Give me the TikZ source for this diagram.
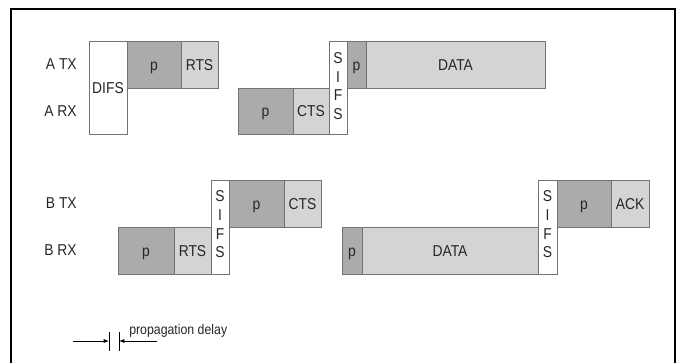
\documentclass[tikz,border=0pt]{standalone}
\usepackage{fontspec}
\setmainfont{Liberation Sans}[FakeStretch=0.88]
\usetikzlibrary{arrows.meta}

\tikzset{
  slot/.style={draw=black!55, line width=0.6pt},
  dark/.style={slot, fill=black!33},
  light/.style={slot, fill=black!17},
  gap/.style={slot, fill=white},
  lbl/.style={text=black!85, font=\fontsize{11.8}{14}\selectfont, inner sep=0pt, align=center},
  word/.style={lbl, text height=8.4pt, text depth=0pt},
}

\begin{document}
\begin{tikzpicture}[x=0.75pt, y=-0.75pt]
\useasboundingbox (0,0) rectangle (680,362);
\draw[line width=1.5pt] (11,363) -- (11,9) -- (675,9) -- (675,363);
% station A
\node[word, anchor=east] (atx) at (77,64) {A TX};
\node[word, anchor=east] (arx) at (77,111) {A RX};
\draw[gap] (89,41) rectangle (127,134) node[word, midway] (difs) {DIFS};
\draw[dark] (127,41) rectangle (181,88) node[word, midway] (ap1) {p};
\draw[light] (181,41) rectangle (218,88) node[word, midway] (arts) {RTS};
\draw[dark] (238,88) rectangle (293,134) node[word, midway] (ap2) {p};
\draw[light] (293,88) rectangle (329,134) node[word, midway] (acts) {CTS};
\draw[gap] (329,41) rectangle (347,134) node[lbl, midway, yshift=1pt] (asifs) {S\\I\\F\\S};
\draw[dark] (347,41) rectangle (366,88) node[word, midway] (ap3) {p};
\draw[light] (366,41) rectangle (545,88) node[word, midway] (adata) {DATA};
% station B
\node[word, anchor=east] (btx) at (77,203) {B TX};
\node[word, anchor=east] (brx) at (77,250) {B RX};
\draw[dark] (118,227) rectangle (174,274) node[word, midway] (bp1) {p};
\draw[light] (174,227) rectangle (211,274) node[word, midway] (brts) {RTS};
\draw[gap] (211,180) rectangle (229,274) node[lbl, midway, yshift=2pt] (bsifs1) {S\\I\\F\\S};
\draw[dark] (229,180) rectangle (284,227) node[word, midway] (bp2) {p};
\draw[light] (284,180) rectangle (321,227) node[word, midway] (bcts) {CTS};
\draw[dark] (342,227) rectangle (362,274) node[word, midway] (bp3) {p};
\draw[light] (362,227) rectangle (538,274) node[word, midway] (bdata) {DATA};
\draw[gap] (538,180) rectangle (557,274) node[lbl, midway, yshift=2pt] (bsifs2) {S\\I\\F\\S};
\draw[dark] (557,180) rectangle (611,227) node[word, midway] (bp4) {p};
\draw[light] (611,180) rectangle (649,227) node[word, midway] (back) {ACK};
% propagation delay
\coordinate (pdl) at (73,341);
\coordinate (pdr) at (157,341);
\coordinate (pd1) at (109,341);
\coordinate (pd2) at (119,341);
\draw[line width=0.5pt] (109,332) -- (109,351);
\draw[line width=0.5pt] (119,332) -- (119,351);
\draw[line width=0.5pt, -{Latex[length=4pt, width=3pt]}] (pdl) -- (pd1);
\draw[line width=0.5pt, -{Latex[length=4pt, width=3pt]}] (pdr) -- (pd2);
\node[lbl, font=\fontsize{10.5}{14}\selectfont, anchor=base west] (pdtxt) at (129,334) {propagation delay};
\end{tikzpicture}
\end{document}
